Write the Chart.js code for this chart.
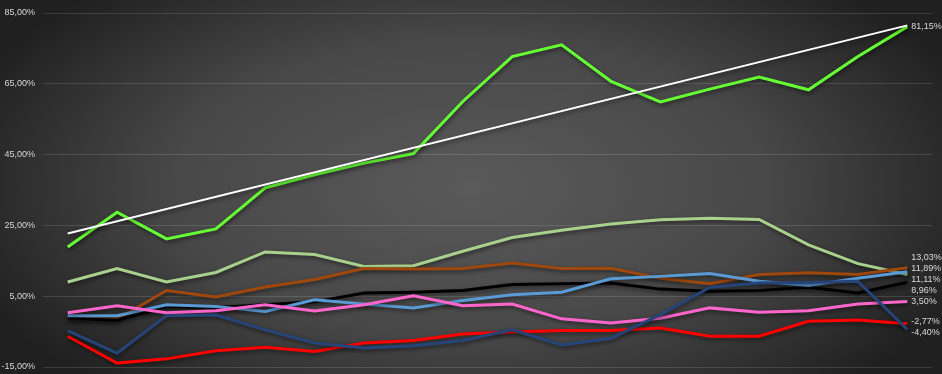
<!DOCTYPE html>
<html>
<head>
<meta charset="utf-8">
<script src="https://cdn.jsdelivr.net/npm/chart.js@4.4.1/dist/chart.umd.min.js"></script>
<style>
  html, body { margin: 0; padding: 0; background: #2a2a2a; overflow: hidden; }
  canvas { display: block; }
</style>
</head>
<body>
<canvas id="perf-chart" width="942" height="374"></canvas>
<script>
const periods = ['1','2','3','4','5','6','7','8','9','10','11','12','13','14','15','16','17','18']

const greenValues = [18.9, 28.7, 21.2, 24.0, 35.6, 39.3, 42.6, 45.3, 60.0, 72.7, 76.0, 65.7, 59.9, 63.5, 66.9, 63.3, 72.7, 81.15]
const lightGreenValues = [9.0, 12.8, 9.0, 11.7, 17.5, 16.8, 13.4, 13.6, 17.7, 21.6, 23.6, 25.4, 26.6, 27.0, 26.7, 19.5, 14.2, 11.11]
const brownValues = [-1.3, -1.5, 6.6, 4.8, 7.6, 9.7, 12.8, 12.7, 12.8, 14.4, 12.8, 12.9, 10.1, 8.5, 11.1, 11.6, 11.1, 13.03]
const lightBlueValues = [-0.5, -0.5, 2.6, 2.1, 0.7, 4.0, 2.8, 1.7, 3.8, 5.4, 6.1, 9.9, 10.6, 11.4, 9.2, 8.0, 10.1, 11.89]
const blackValues = [-1.2, -1.8, 2.1, 1.8, 2.6, 3.4, 5.9, 6.1, 6.6, 8.3, 8.5, 8.7, 7.0, 6.4, 6.6, 7.5, 5.9, 8.96]
const pinkValues = [0.3, 2.3, 0.3, 0.9, 2.6, 0.8, 2.6, 5.1, 2.3, 2.8, -1.4, -2.6, -1.2, 1.7, 0.5, 0.9, 2.8, 3.50]
const redValues = [-6.3, -13.9, -12.7, -10.4, -9.4, -10.6, -8.2, -7.5, -5.7, -5.1, -4.7, -4.7, -4.0, -6.3, -6.3, -2.1, -1.7, -2.77]
const navyValues = [-4.7, -11.1, -0.5, -0.3, -4.5, -8.2, -9.6, -9.0, -7.5, -4.5, -8.8, -6.9, -0.2, 7.5, 8.7, 8.9, 9.2, -4.40]
// trend line: only the two ends, drawn straight across the gap
const trendValues = [22.7, null, null, null, null, null, null, null, null, null, null, null, null, null, null, null, null, 81.5]

const yTicks = [-15, 5, 25, 45, 65, 85]

const fontFamily = "'Liberation Sans', Arial, sans-serif"
const textColor = '#d9d9d9'

const pct = v => v.toFixed(2).replace('.', ',') + '%'

function series(label, data, color, width, endLabel) {
    return {
        label,
        data,
        borderColor: color,
        backgroundColor: color,
        borderWidth: width,
        pointRadius: 0,
        pointHoverRadius: 0,
        tension: 0,
        fill: false,
        spanGaps: true,
        endLabel
    }
}

const backgroundPlugin = {
    id: 'bg',
    beforeDraw(chart) {
        const { ctx, width, height } = chart
        ctx.save()
        ctx.fillStyle = '#222'
        ctx.fillRect(0, 0, width, height)
        ctx.translate(width / 2, height / 2)
        ctx.scale(1, 0.5)
        const g = ctx.createRadialGradient(0, 0, 0, 0, 0, 540)
        g.addColorStop(0, '#5a5a5a')
        g.addColorStop(0.55, '#484848')
        g.addColorStop(1, '#202020')
        ctx.fillStyle = g
        ctx.fillRect(-width, -height * 2, width * 2, height * 4)
        ctx.restore()
    }
}

const shadowPlugin = {
    id: 'lineShadow',
    beforeDatasetDraw(chart) {
        const ctx = chart.ctx
        ctx.save()
        ctx.shadowColor = 'rgba(0,0,0,0.55)'
        ctx.shadowBlur = 4
        ctx.shadowOffsetX = 1
        ctx.shadowOffsetY = 2
    },
    afterDatasetDraw(chart) {
        chart.ctx.restore()
    }
}

// value labels at the end of each line, pushed apart where they overlap
const endLabelPlugin = {
    id: 'endLabels',
    afterDatasetsDraw(chart) {
        const { ctx } = chart
        const gap = 11
        const items = []
        chart.data.datasets.forEach((ds, i) => {
            if (!ds.endLabel) return
            const meta = chart.getDatasetMeta(i)
            const last = meta.data[meta.data.length - 1]
            items.push({ x: last.x, y: last.y, text: pct(ds.data[ds.data.length - 1]) })
        })
        items.sort((a, b) => a.y - b.y)
        let groups = items.map(it => ({ items: [it], center: it.y }))
        let merged = true
        while (merged) {
            merged = false
            for (let k = 0; k < groups.length - 1; k++) {
                const a = groups[k], b = groups[k + 1]
                const aBottom = a.center + (a.items.length - 1) * gap / 2
                const bTop = b.center - (b.items.length - 1) * gap / 2
                if (bTop - aBottom < gap) {
                    const all = a.items.concat(b.items)
                    const c = all.reduce((s, it) => s + it.y, 0) / all.length
                    groups.splice(k, 2, { items: all, center: c })
                    merged = true
                    break
                }
            }
        }
        ctx.save()
        ctx.font = '9px ' + fontFamily
        ctx.fillStyle = textColor
        ctx.textAlign = 'left'
        ctx.textBaseline = 'middle'
        groups.forEach(g => {
            const top = g.center - (g.items.length - 1) * gap / 2
            g.items.forEach((it, j) => {
                ctx.fillText(it.text, it.x + 4, top + j * gap)
            })
        })
        ctx.restore()
    }
}

const perfCanvas = document.getElementById('perf-chart').getContext('2d')

const data = {
    labels: periods,
    datasets: [
        series('Trend', trendValues, '#ffffff', 2, false),
        series('Navy', navyValues, '#264478', 3, true),
        series('Red', redValues, '#ff0000', 3, true),
        series('Pink', pinkValues, '#ff66cc', 3, true),
        series('Light blue', lightBlueValues, '#5b9bd5', 3, true),
        series('Black', blackValues, '#000000', 3, true),
        series('Brown', brownValues, '#9e480e', 3, true),
        series('Light green', lightGreenValues, '#a9d18e', 3, true),
        series('Green', greenValues, '#66ff33', 3, true)
    ]
}

const config = {
    type: 'line',
    data,
    options: {
        responsive: false,
        animation: false,
        devicePixelRatio: 1,
        layout: {
            padding: { top: 0, right: 10, bottom: 0, left: 0 }
        },
        plugins: {
            legend: { display: false },
            title: { display: false },
            tooltip: { enabled: false }
        },
        scales: {
            x: {
                type: 'category',
                display: false,
                offset: true
            },
            y: {
                min: -15,
                max: 85,
                afterBuildTicks(axis) {
                    axis.ticks = yTicks.map(v => ({ value: v }))
                },
                afterFit(axis) {
                    axis.width = 43
                    // room above and below the plot, as in the original
                    axis.paddingTop = 13
                    axis.paddingBottom = 7
                },
                grid: { color: 'rgba(255,255,255,0.13)', lineWidth: 1, drawTicks: false },
                border: { display: false },
                ticks: {
                    color: textColor,
                    padding: 8,
                    font: { family: fontFamily, size: 9 },
                    callback: v => pct(v)
                }
            }
        }
    },
    plugins: [backgroundPlugin, shadowPlugin, endLabelPlugin]
}

const perfChart = new Chart(perfCanvas, config)
</script>
</body>
</html>
